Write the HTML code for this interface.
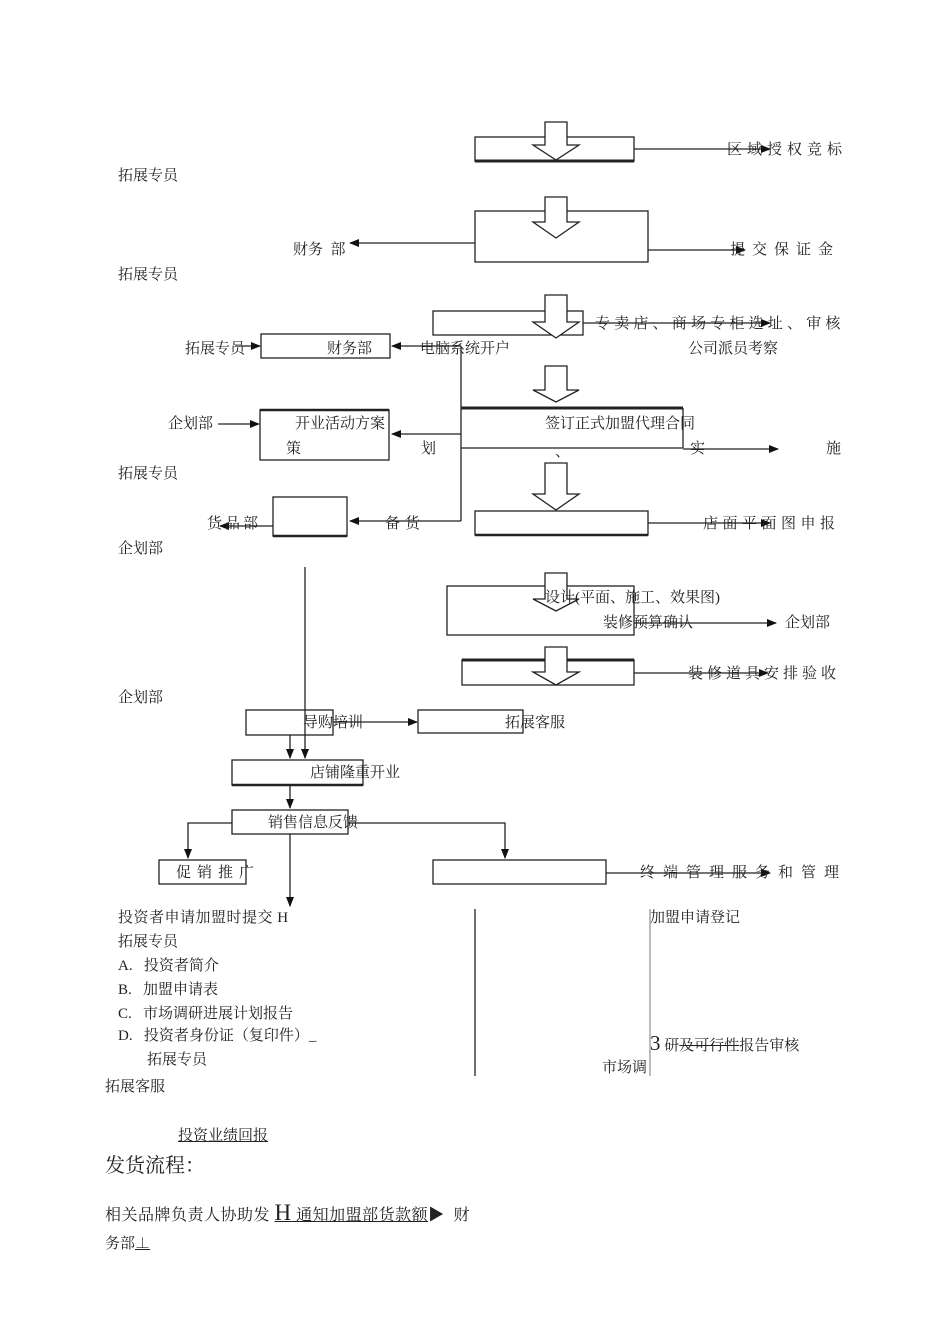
<!DOCTYPE html>
<html><head><meta charset="utf-8"><style>
body{margin:0;background:#fff;}
#c{position:relative;width:950px;height:1344px;overflow:hidden;font-family:"Liberation Serif","Noto Serif CJK SC","Noto Sans CJK SC",serif;color:#222;}
.t{position:absolute;font-size:15px;line-height:18px;white-space:nowrap;}
svg{position:absolute;left:0;top:0;}
</style></head><body><div id="c">
<svg width="950" height="1344" viewBox="0 0 950 1344">
<defs><marker id="a" markerWidth="10" markerHeight="8" refX="9" refY="4" orient="auto" markerUnits="userSpaceOnUse"><path d="M0,0 L10,4 L0,8z" fill="#111"/></marker></defs>
<g fill="none" stroke="#222" stroke-width="1.3">
<rect x="475" y="137" width="159" height="24"/><line x1="475" y1="161" x2="634" y2="161" stroke-width="3"/>
<line x1="634" y1="149" x2="770" y2="149" marker-end="url(#a)"/>
<rect x="475" y="211" width="173" height="51"/>
<line x1="475" y1="243" x2="350" y2="243" marker-end="url(#a)"/>
<line x1="648" y1="250" x2="745" y2="250" marker-end="url(#a)"/>
<rect x="433" y="311" width="150" height="24"/>
<line x1="583" y1="323" x2="770" y2="323" marker-end="url(#a)"/>
<rect x="261" y="334" width="129" height="24"/>
<line x1="235" y1="346" x2="260" y2="346" marker-end="url(#a)"/>
<line x1="461" y1="346" x2="392" y2="346" marker-end="url(#a)"/>
<line x1="461" y1="346" x2="461" y2="521"/>
<line x1="461" y1="408" x2="683" y2="408" stroke-width="3"/>
<line x1="683" y1="408" x2="683" y2="448"/>
<line x1="461" y1="448" x2="683" y2="448"/>
<line x1="683" y1="449" x2="778" y2="449" marker-end="url(#a)"/>
<rect x="260" y="410" width="129" height="50"/><line x1="260" y1="410" x2="389" y2="410" stroke-width="2.5"/>
<line x1="218" y1="424" x2="259" y2="424" marker-end="url(#a)"/>
<line x1="461" y1="434" x2="392" y2="434" marker-end="url(#a)"/>
<rect x="475" y="511" width="173" height="24"/><line x1="475" y1="535" x2="648" y2="535" stroke-width="2.5"/>
<line x1="648" y1="523" x2="770" y2="523" marker-end="url(#a)"/>
<rect x="273" y="497" width="74" height="39"/><line x1="273" y1="536" x2="347" y2="536" stroke-width="2.5"/>
<line x1="461" y1="521" x2="350" y2="521" marker-end="url(#a)"/>
<line x1="273" y1="526" x2="220" y2="526" marker-end="url(#a)"/>
<line x1="305" y1="567" x2="305" y2="758" marker-end="url(#a)"/>
<rect x="447" y="586" width="187" height="49"/>
<line x1="634" y1="623" x2="776" y2="623" marker-end="url(#a)"/>
<rect x="462" y="660" width="172" height="25"/><line x1="462" y1="660" x2="634" y2="660" stroke-width="3"/>
<line x1="634" y1="673" x2="768" y2="673" marker-end="url(#a)"/>
<rect x="246" y="710" width="87" height="25"/>
<line x1="333" y1="722" x2="417" y2="722" marker-end="url(#a)"/>
<rect x="418" y="710" width="105" height="23"/>
<line x1="290" y1="735" x2="290" y2="758" marker-end="url(#a)"/>
<rect x="232" y="760" width="131" height="25"/><line x1="232" y1="785" x2="363" y2="785" stroke-width="2.5"/>
<line x1="290" y1="785" x2="290" y2="808" marker-end="url(#a)"/>
<rect x="232" y="810" width="116" height="24"/>
<polyline points="232,823 188,823 188,858" marker-end="url(#a)"/>
<polyline points="348,823 505,823 505,858" marker-end="url(#a)"/>
<rect x="159" y="860" width="87" height="24"/>
<rect x="433" y="860" width="173" height="24"/>
<line x1="606" y1="873" x2="770" y2="873" marker-end="url(#a)"/>
<line x1="290" y1="834" x2="290" y2="906" marker-end="url(#a)"/>
<line x1="475" y1="909" x2="475" y2="1076"/>
<line x1="650" y1="909" x2="650" y2="1076" stroke="#999"/>
</g>
<g fill="#fff" stroke="#222" stroke-width="1.3">
<path d="M545,122 L567,122 L567,145 L579,145 L556,160 L533,145 L545,145z"/>
<path d="M545,197 L567,197 L567,222 L579,222 L556,238 L533,222 L545,222z"/>
<path d="M545,295 L567,295 L567,322 L579,322 L556,338 L533,322 L545,322z"/>
<path d="M545,366 L567,366 L567,390 L579,390 L556,402 L533,390 L545,390z"/>
<path d="M545,463 L567,463 L567,494 L579,494 L556,510 L533,494 L545,494z"/>
<path d="M545,573 L567,573 L567,599 L579,599 L556,611 L533,599 L545,599z"/>
<path d="M545,647 L567,647 L567,672 L579,672 L556,685 L533,672 L545,672z"/>
</g>
<path d="M287,897 L293,897 L290,907z" fill="#111"/>
</svg>
<div class="t" style="left:727px;top:141px;letter-spacing:5px">区域授权竞标</div>
<div class="t" style="left:118px;top:167px">拓展专员</div>
<div class="t" style="left:293px;top:241px">财务&nbsp;&nbsp;部</div>
<div class="t" style="left:730px;top:241px;letter-spacing:7px">提交保证金</div>
<div class="t" style="left:118px;top:266px">拓展专员</div>
<div class="t" style="left:595px;top:315px;letter-spacing:4.2px">专卖店、商场专柜选址、审核</div>
<div class="t" style="left:185px;top:340px">拓展专员</div>
<div class="t" style="left:327px;top:340px">财务部</div>
<div class="t" style="left:420px;top:340px">电脑系统开户</div>
<div class="t" style="left:688px;top:340px">公司派员考察</div>
<div class="t" style="left:168px;top:415px">企划部</div>
<div class="t" style="left:295px;top:415px">开业活动方案</div>
<div class="t" style="left:545px;top:415px">签订正式加盟代理合同</div>
<div class="t" style="left:286px;top:440px">策</div>
<div class="t" style="left:421px;top:440px">划</div>
<div class="t" style="left:555px;top:443px">、</div>
<div class="t" style="left:690px;top:440px">实</div>
<div class="t" style="left:826px;top:440px">施</div>
<div class="t" style="left:118px;top:465px">拓展专员</div>
<div class="t" style="left:207px;top:515px;letter-spacing:3px">货品部</div>
<div class="t" style="left:385px;top:515px;letter-spacing:5px">备货</div>
<div class="t" style="left:703px;top:515px;letter-spacing:4.5px">店面平面图申报</div>
<div class="t" style="left:118px;top:540px">企划部</div>
<div class="t" style="left:545px;top:589px">设计(平面、施工、效果图)</div>
<div class="t" style="left:603px;top:614px">装修预算确认</div>
<div class="t" style="left:785px;top:614px">企划部</div>
<div class="t" style="left:688px;top:665px;letter-spacing:4px">装修道具安排验收</div>
<div class="t" style="left:118px;top:689px">企划部</div>
<div class="t" style="left:303px;top:714px">导购培训</div>
<div class="t" style="left:505px;top:714px">拓展客服</div>
<div class="t" style="left:310px;top:764px">店铺隆重开业</div>
<div class="t" style="left:268px;top:814px">销售信息反馈</div>
<div class="t" style="left:176px;top:864px;letter-spacing:6px">促销推广</div>
<div class="t" style="left:640px;top:864px;letter-spacing:8px">终端管理服务和管理</div>
<div class="t" style="left:118px;top:909px;letter-spacing:0.5px">投资者申请加盟时提交 H</div>
<div class="t" style="left:650px;top:909px">加盟申请登记</div>
<div class="t" style="left:118px;top:933px">拓展专员</div>
<div class="t" style="left:118px;top:957px">A.&nbsp;&nbsp;&nbsp;投资者简介</div>
<div class="t" style="left:118px;top:981px">B.&nbsp;&nbsp;&nbsp;加盟申请表</div>
<div class="t" style="left:118px;top:1005px">C.&nbsp;&nbsp;&nbsp;市场调研进展计划报告</div>
<div class="t" style="left:118px;top:1027px">D.&nbsp;&nbsp;&nbsp;投资者身份证（复印件）_</div>
<div class="t" style="left:147px;top:1051px">拓展专员</div>
<div class="t" style="left:650px;top:1034px"><span style="font-size:21px">3</span> 研<s>及可行性</s>报告审核</div>
<div class="t" style="left:602px;top:1059px">市场调</div>
<div class="t" style="left:105px;top:1078px">拓展客服</div>
<div class="t" style="left:178px;top:1127px;text-decoration:underline">投资业绩回报</div>
<div class="t" style="left:105px;top:1154px;font-size:20px;line-height:24px">发货流程：</div>
<div class="t" style="left:105px;top:1204px;font-size:16px;letter-spacing:0.5px">相关品牌负责人协助发 <span style="text-decoration:underline"><span style="font-size:23px">H</span> 通知加盟部货款额</span>▶&nbsp;&nbsp;财</div>
<div class="t" style="left:105px;top:1235px">务部<u>⊥</u></div>
</div></body></html>
